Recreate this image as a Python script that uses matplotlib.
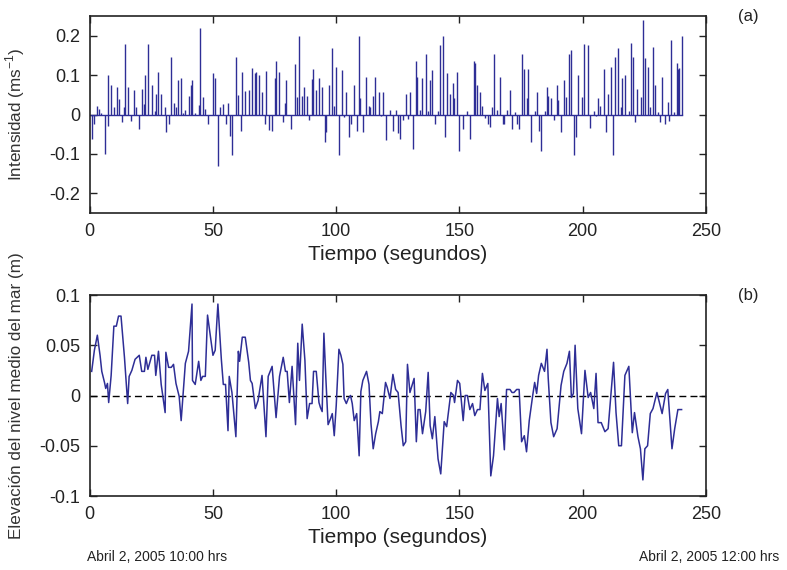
import matplotlib
matplotlib.use("Agg")
import matplotlib.pyplot as plt
import numpy as np

plt.rcParams['font.family'] = ['Liberation Sans', 'DejaVu Sans']

# ---- Panel (a): current intensity impulses ----
spike_t = [0.8, 1.9, 3.0, 3.9, 4.6, 6.2, 7.3, 7.6, 8.7, 9.8, 11.2, 11.9, 12.9, 14.0, 14.4, 15.7,
           16.9, 18.0, 18.8, 20.1, 21.1, 22.1, 22.6, 23.7, 25.2, 26.3, 26.8, 27.8, 28.9, 30.4,
           31.0, 32.0, 33.1, 34.0, 35.0, 36.0, 37.1, 37.9, 38.8, 40.1, 41.1, 41.7, 42.8, 44.4,
           44.9, 45.8, 46.9, 48.0, 50.0, 50.9, 52.0, 53.0, 54.1, 55.1, 56.1, 57.0, 57.7, 59.3,
           60.2, 61.2, 61.8, 62.9, 64.8, 65.9, 66.9, 67.5, 68.8, 69.9, 71.0, 71.5, 72.6, 74.0,
           75.1, 75.7, 76.8, 78.3, 79.3, 79.8, 81.8, 83.1,
           83.9, 85.0, 86.0, 87.0, 88.1, 89.0, 90.1, 90.6, 91.7, 93.1, 94.2, 95.3, 95.8, 96.9,
           98.4, 98.9, 100.0, 101.0, 102.4, 103.2, 104.1, 105.0, 106.1, 107.2, 108.3, 109.3,
           109.8, 110.8, 112.2, 113.3, 113.8, 114.9, 115.8, 117.5, 118.3, 119.1, 120.0, 121.8,
           123.2, 124.1, 125.2, 125.9, 127.2, 128.3, 129.0, 129.8, 131.3, 132.4, 132.9, 134.0,
           134.9, 136.6, 137.1, 138.1, 139.0, 140.2, 141.2, 142.1, 143.2, 144.2, 144.8, 146.2,
           147.3, 147.8, 148.9, 150.0, 151.6, 153.0, 154.1, 155.7, 156.2, 157.3, 158.3, 159.3,
           160.3, 161.4, 162.3, 163.0, 163.9,
           165.4, 166.4, 167.5, 168.2, 169.2, 170.6, 171.5, 172.4, 173.3, 174.2, 175.3, 176.3,
           177.2, 177.9, 179.0, 180.5, 181.4, 182.4, 183.1, 184.7, 185.5, 186.0, 187.1, 188.2,
           189.6, 190.1, 191.2, 192.3, 193.4, 194.3, 195.4, 196.3, 197.3, 198.0, 199.6, 200.4,
           202.0, 203.1, 204.7, 205.4, 206.2, 207.2, 208.8, 209.3, 210.3, 211.4, 212.3, 213.0,
           214.5, 215.6, 216.0, 217.1, 218.6, 219.6, 220.2, 221.3, 222.1, 223.7, 224.3, 225.3,
           226.3, 227.4, 228.5, 229.5, 230.5, 231.3, 232.0, 233.5, 234.5, 235.1, 236.0, 237.1,
           238.1, 238.6, 239.1, 240.2]
spike_v = [-0.062, -0.025, 0.021, 0.014, 0.005, -0.100, -0.030, 0.100, 0.074, 0.019, 0.070, 0.040,
           -0.020, 0.019, 0.180, 0.070, -0.017, 0.061, 0.020, -0.036, 0.064, 0.027, 0.100, 0.180,
           0.074, 0.008, 0.051, 0.109, 0.053, 0.019, -0.045, -0.025, 0.147, 0.030, 0.020, 0.087,
           0.092, 0.005, 0.012, 0.048, 0.076, 0.087, 0.005, 0.024, 0.220, 0.044, 0.013, -0.024,
           0.106, 0.092, -0.131, 0.020, 0.027, -0.024, 0.030, -0.055, -0.103, 0.147, 0.050,
           -0.042, 0.109, 0.060, 0.062, 0.118, 0.106, 0.109, 0.100, 0.057, -0.025, 0.111, -0.040,
           -0.042, 0.092, 0.137, 0.109, -0.020, 0.030, 0.087, -0.036, 0.129,
           0.044, 0.200, 0.048, 0.070, 0.048, -0.013, 0.089, 0.115, 0.061, 0.092, 0.070, -0.070,
           -0.045, 0.076, 0.170, 0.021, 0.121, -0.103, 0.112, -0.006, 0.057, -0.057, -0.025,
           0.076, -0.042, 0.200, 0.041, -0.044, 0.096, 0.021, 0.019, 0.048, 0.096, 0.057, -0.005,
           0.057, -0.065, 0.012, -0.042, 0.012, -0.048, -0.062, -0.013, 0.051, -0.012, 0.057,
           -0.087, 0.137, 0.096, 0.012, 0.092, 0.154, 0.010, 0.087, 0.112, -0.025, 0.009, 0.176,
           0.200, -0.057, 0.106, 0.053, 0.079, 0.041, 0.109, -0.093, -0.038, 0.008, -0.061, 0.137,
           0.131, 0.074, 0.057, 0.021, -0.008, -0.025, -0.031, 0.019, 0.154,
           0.012, 0.096, -0.025, -0.025, 0.012, 0.061, -0.038, 0.006, -0.023, -0.038, 0.154,
           0.115, 0.041, 0.115, -0.070, 0.010, 0.057, -0.042, -0.093, 0.010, 0.070, 0.048, 0.041,
           -0.013, 0.076, 0.038, -0.045, 0.087, 0.044, 0.154, 0.163, -0.103, -0.057, 0.100, 0.044,
           0.180, 0.176, -0.035, 0.008, -0.005, 0.041, 0.021, 0.115, -0.045, 0.053, 0.121, -0.103,
           0.147, 0.170, 0.019, 0.092, 0.100, 0.010, 0.182, 0.147, -0.020, 0.064, 0.044, 0.240,
           0.144, 0.121, 0.019, 0.172, 0.076, 0.006, -0.020, 0.096, -0.023, 0.031, -0.017, 0.189,
           0.006, 0.131, 0.115, 0.119, 0.198]

# ---- Panel (b): mean sea level elevation ----
level_t = [0.8, 1.9, 3.1, 4.2, 4.9, 6.0, 6.5, 7.2, 7.7, 8.7, 9.8, 10.8, 11.7, 12.7, 14.1, 15.4,
           16.0, 17.1, 18.4, 20.1, 21.1, 22.2, 22.8, 23.6, 24.3, 25.2, 26.3, 26.8, 27.9, 29.0,
           29.8, 30.6, 30.9, 32.0, 33.1, 34.0, 35.0, 36.3, 37.1, 38.8, 40.1, 41.5, 41.7, 42.8,
           44.2, 45.1, 45.8, 46.9, 47.8, 48.9, 50.0, 50.9, 52.0, 53.4, 54.2, 55.1, 56.1, 56.6,
           57.7, 59.3, 60.3, 60.8, 61.9, 63.1, 64.5, 65.2, 65.9, 67.2, 68.3, 69.9, 71.5, 72.4,
           74.0, 75.6, 77.0, 78.5, 79.4, 80.1, 81.0, 82.1,
           83.5, 84.4, 85.1, 86.2, 87.3, 88.2, 89.2, 90.2, 90.8, 91.9, 93.0, 93.6, 94.3, 95.0,
           95.8, 96.7, 97.7, 98.4, 99.2, 100.0, 101.1, 101.9, 102.7, 103.2, 104.1, 104.9, 105.8,
           106.5, 107.3, 108.3, 109.3, 110.0, 110.8, 112.3, 113.3, 114.1, 115.0, 116.0, 117.1,
           117.7, 118.7, 120.0, 120.7, 121.8, 123.0, 124.1, 125.1, 126.3, 127.2, 128.2, 128.9,
           129.9, 131.6, 132.5, 133.2, 134.0, 135.0, 136.3, 137.3, 138.1, 139.0, 140.0, 141.3,
           142.4, 143.8, 144.8, 146.5, 147.6, 148.0, 149.2, 150.1, 151.5, 152.3, 153.2, 154.2,
           155.3, 156.2, 157.3, 158.3, 159.3, 160.3,
           161.5, 162.7, 163.8, 165.4, 166.1, 166.9, 168.2, 169.1, 170.5, 171.3, 172.1, 173.2,
           174.2, 175.2, 176.3, 177.2, 178.3, 179.7, 180.5, 181.3, 182.1, 183.2, 184.5, 185.5,
           186.0, 187.1, 188.2, 189.6, 191.2, 192.3, 193.6, 194.6, 195.4, 196.2, 196.9, 198.0,
           199.5, 200.9, 202.2, 203.2, 204.5, 205.4, 206.2, 207.5, 209.0, 210.3, 212.5, 213.5,
           214.6, 215.7, 217.1, 218.7, 220.1, 221.0, 222.4, 223.4, 224.4, 225.2, 226.3, 227.4,
           228.5, 230.1, 232.2, 233.6, 234.5, 236.2, 237.3, 238.6, 240.1]
level_v = [0.024, 0.045, 0.060, 0.040, 0.024, 0.013, 0.007, 0.012, -0.007, 0.020, 0.069, 0.069,
           0.079, 0.079, 0.038, -0.008, 0.019, 0.025, 0.036, 0.040, 0.024, 0.024, 0.038, 0.026,
           0.032, 0.040, 0.040, 0.020, 0.044, 0.011, -0.003, -0.017, 0.043, 0.028, 0.028, 0.031,
           0.012, -0.001, -0.025, 0.032, 0.044, 0.091, 0.015, 0.011, 0.034, 0.015, 0.019, 0.019,
           0.080, 0.060, 0.040, 0.045, 0.091, 0.036, 0.011, 0.011, -0.035, 0.019, 0.003, -0.041,
           0.044, 0.034, 0.058, 0.058, 0.033, 0.015, 0.012, -0.013, -0.005, 0.020, -0.041, 0.019,
           0.029, -0.022, 0.019, 0.038, 0.024, 0.024, -0.007, 0.029,
           -0.029, 0.052, 0.015, 0.071, 0.035, -0.023, -0.008, -0.008, 0.024, 0.024, -0.007,
           -0.012, -0.016, 0.062, 0.017, -0.029, -0.023, -0.018, -0.040, -0.010, 0.046, 0.040,
           0.031, -0.003, -0.008, -0.003, 0.000, -0.008, -0.025, -0.018, -0.060, 0.004, 0.015,
           0.024, 0.011, -0.028, -0.053, -0.038, -0.026, -0.016, -0.018, 0.013, 0.008, -0.003,
           0.021, 0.006, 0.003, -0.030, -0.050, -0.046, 0.031, 0.003, 0.017, -0.046, -0.014,
           -0.014, -0.038, -0.016, 0.023, -0.030, -0.043, -0.021, -0.063, -0.078, -0.026, -0.031,
           0.003, 0.000, -0.007, 0.015, 0.012, -0.025, 0.000, 0.000, -0.014, -0.008, -0.020,
           -0.014, -0.014, 0.022, 0.005,
           0.012, -0.080, -0.060, -0.003, -0.021, -0.008, -0.054, 0.006, 0.006, 0.003, 0.003,
           0.006, 0.006, -0.046, -0.040, -0.056, -0.025, 0.000, 0.013, 0.002, 0.020, 0.032,
           0.024, 0.046, 0.017, -0.027, -0.041, -0.033, 0.010, 0.024, 0.032, 0.044, -0.002,
           0.002, 0.050, -0.013, -0.038, 0.025, -0.002, 0.003, -0.013, 0.022, -0.027, -0.027,
           -0.036, -0.033, 0.033, -0.017, -0.050, -0.050, 0.020, 0.029, -0.037, -0.017, -0.041,
           -0.053, -0.084, -0.053, -0.050, -0.018, -0.013, 0.003, -0.018, 0.002, 0.006, -0.053,
           -0.033, -0.014, -0.014]

xticks = [0, 50, 100, 150, 200, 250]
yticks_a = [-0.2, -0.1, 0, 0.1, 0.2]
yticks_b = [-0.1, -0.05, 0, 0.05, 0.1]
ytick_labels_a = ['-0.2', '-0.1', '0', '0.1', '0.2']
ytick_labels_b = ['-0.1', '-0.05', '0', '0.05', '0.1']

line_color = '#2e2e96'
W, H = 787, 570
fig = plt.figure(figsize=(W / 100, H / 100), dpi=100)

ax1 = fig.add_axes([89.7 / W, 1 - 213 / H, (706 - 89.7) / W, (213 - 16) / H])
ax2 = fig.add_axes([89.7 / W, 1 - 496 / H, (706 - 89.7) / W, (496 - 295) / H])

# panel (a)
ax1.vlines(spike_t, 0, spike_v, color=line_color, lw=1.0)
ax1.plot([0, max(spike_t)], [0, 0], color=line_color, lw=1.0)
ax1.set_xlim(0, 250)
ax1.set_ylim(-0.25, 0.25)
ax1.set_yticks(yticks_a)
ax1.set_yticklabels(ytick_labels_a)
ax1.set_ylabel(r'Intensidad (ms$^{\mathregular{-1}}$)', fontsize=12.3, color='#333333')

# panel (b)
ax2.axhline(0, color='black', lw=1.0, ls=(0, (5, 3)))
ax2.plot(level_t, level_v, color=line_color, lw=1.1)
ax2.set_xlim(0, 250)
ax2.set_ylim(-0.1, 0.1)
ax2.set_yticks(yticks_b)
ax2.set_yticklabels(ytick_labels_b)
ax2.set_ylabel('Elevación del nivel medio del mar (m)', fontsize=12.3, color='#333333')

for ax in (ax1, ax2):
    ax.set_xticks(xticks)
    ax.set_xticklabels([str(v) for v in xticks])
    ax.tick_params(direction='in', top=True, right=True, length=5, width=1,
                   labelsize=13, colors='#222222', pad=7)
    ax.set_xlabel('Tiempo (segundos)', fontsize=15, color='#222222', labelpad=4)
    for s in ax.spines.values():
        s.set_linewidth(1.2)
        s.set_color('#222222')

ax1.yaxis.set_label_coords(-0.102, 0.5)
ax2.yaxis.set_label_coords(-0.106, 0.5)

fig.text(748 / W, 1 - 16 / H, '(a)', fontsize=12, ha='center', va='center', color='#222222')
fig.text(748 / W, 1 - 295 / H, '(b)', fontsize=12, ha='center', va='center', color='#222222')

narrow = ['Liberation Sans Narrow', 'Liberation Sans', 'DejaVu Sans']
fig.text(157 / W, 1 - 557 / H, 'Abril 2, 2005 10:00 hrs', fontsize=10, ha='center', va='center',
         family=narrow, color='#222222')
fig.text(779 / W, 1 - 557 / H, 'Abril 2, 2005 12:00 hrs', fontsize=10, ha='right', va='center',
         family=narrow, color='#222222')

fig.savefig('out.png', dpi=100)
